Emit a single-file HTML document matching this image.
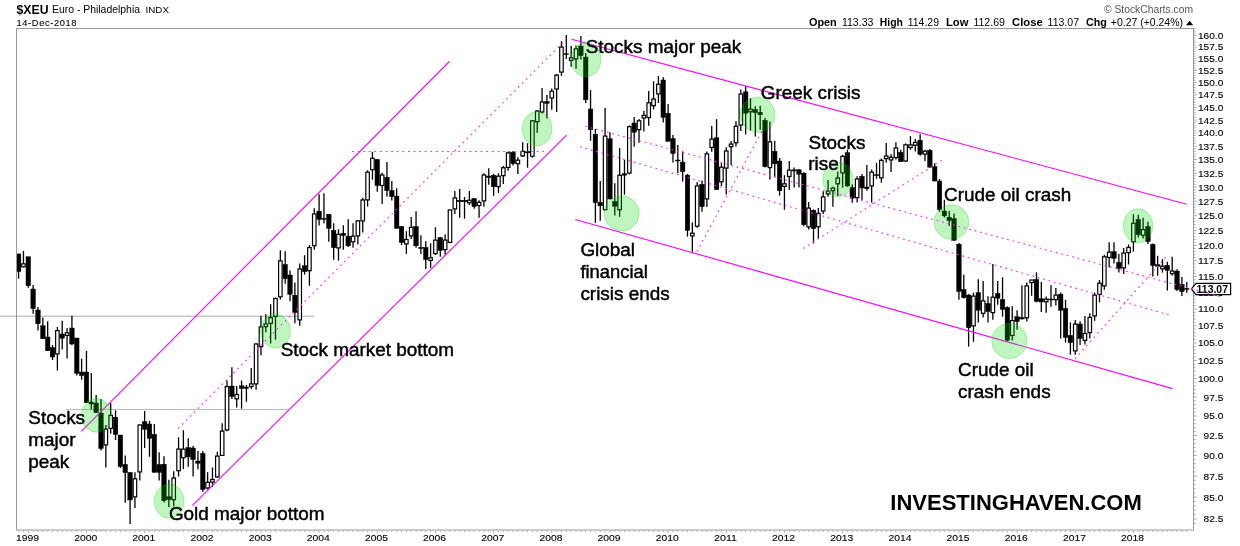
<!DOCTYPE html>
<html lang="en"><head><meta charset="utf-8"><title>$XEU Euro - Philadelphia INDX</title>
<style>html,body{margin:0;padding:0;background:#fff}body{width:1240px;height:546px;overflow:hidden}svg{display:block}text{font-family:"Liberation Sans",Arial,sans-serif;fill:#000}.ax{font-size:9.7px;stroke:#000;stroke-width:0.12px}.an{font-size:18.7px;stroke:#000;stroke-width:0.45px}.b{font-weight:bold}.m{stroke:#ff00ff;stroke-width:1.1;fill:none}.d{stroke:#ff22ff;stroke-width:1.15;fill:none;stroke-dasharray:1.7 3.9}.g{fill:rgba(0,215,0,0.25);stroke:rgba(0,215,0,0.30);stroke-width:1}.w{stroke:#000;stroke-width:1.3}.f{fill:#000;stroke:#000;stroke-width:0.4}.h{fill:#fff;stroke:#000;stroke-width:1.2}</style></head><body>
<svg width="1240" height="546" viewBox="0 0 1240 546">
<rect x="0" y="0" width="1240" height="546" fill="#fff"/>
<text x="16.5" y="13.8" class="b" style="font-size:13px" textLength="32" lengthAdjust="spacingAndGlyphs">$XEU</text>
<text x="52" y="12.7" style="font-size:10.3px" textLength="88" lengthAdjust="spacingAndGlyphs">Euro - Philadelphia</text>
<text x="145.5" y="12.7" style="font-size:9px" textLength="23.5" lengthAdjust="spacingAndGlyphs">INDX</text>
<text x="16.5" y="25.7" style="font-size:9.3px;stroke:#000;stroke-width:0.1px" textLength="60" lengthAdjust="spacing">14-Dec-2018</text>
<text x="1104" y="12.6" style="font-size:10px;fill:#555" textLength="89" lengthAdjust="spacingAndGlyphs">© StockCharts.com</text>
<text x="808.9" y="25.8" style="font-size:10.5px" class="b" textLength="27.9" lengthAdjust="spacingAndGlyphs">Open</text>
<text x="841.9" y="25.8" style="font-size:10px" textLength="31.5" lengthAdjust="spacingAndGlyphs">113.33</text>
<text x="879.8" y="25.8" style="font-size:10.5px" class="b" textLength="23.1" lengthAdjust="spacingAndGlyphs">High</text>
<text x="907.7" y="25.8" style="font-size:10px" textLength="31.3" lengthAdjust="spacingAndGlyphs">114.29</text>
<text x="946" y="25.8" style="font-size:10.5px" class="b" textLength="22.5" lengthAdjust="spacingAndGlyphs">Low</text>
<text x="973.4" y="25.8" style="font-size:10px" textLength="31.5" lengthAdjust="spacingAndGlyphs">112.69</text>
<text x="1012.1" y="25.8" style="font-size:10.5px" class="b" textLength="30.6" lengthAdjust="spacingAndGlyphs">Close</text>
<text x="1047.6" y="25.8" style="font-size:10px" textLength="31.4" lengthAdjust="spacingAndGlyphs">113.07</text>
<text x="1086" y="25.8" style="font-size:10.5px" class="b" textLength="20.8" lengthAdjust="spacingAndGlyphs">Chg</text>
<text x="1110.8" y="25.8" style="font-size:10px" textLength="72.2" lengthAdjust="spacingAndGlyphs">+0.27 (+0.24%)</text>
<path d="M1186 25.2 L1189.6 20.8 L1193.2 25.2 Z" fill="#000"/>
<path d="M0 316.2H314" stroke="#aaa" stroke-width="1"/>
<path d="M66 409.5H289" stroke="#bbb" stroke-width="1"/>
<path class="w" d="M18.60 253.9V278.7"/>
<rect class="f" x="16.30" y="253.9" width="4.6" height="17.7"/>
<path class="w" d="M23.45 251.0V267.4"/>
<rect class="h" x="21.70" y="263.8" width="3.5" height="3.0"/>
<path class="w" d="M28.29 256.8V287.7"/>
<rect class="f" x="25.99" y="256.8" width="4.6" height="29.0"/>
<path class="w" d="M33.14 284.9V313.8"/>
<rect class="f" x="30.84" y="289.0" width="4.6" height="19.6"/>
<path class="w" d="M37.99 307.0V330.5"/>
<rect class="f" x="35.69" y="310.0" width="4.6" height="13.8"/>
<path class="w" d="M42.84 317.5V338.8"/>
<rect class="f" x="40.54" y="325.8" width="4.6" height="13.0"/>
<path class="w" d="M47.68 321.2V350.8"/>
<rect class="f" x="45.38" y="337.0" width="4.6" height="13.8"/>
<path class="w" d="M52.53 345.0V360.0"/>
<rect class="f" x="50.23" y="347.5" width="4.6" height="9.5"/>
<path class="w" d="M57.38 327.0V370.5"/>
<rect class="h" x="55.63" y="330.6" width="3.5" height="23.3"/>
<path class="w" d="M62.22 320.8V349.5"/>
<rect class="f" x="59.92" y="334.0" width="4.6" height="4.2"/>
<path class="w" d="M67.07 328.0V358.5"/>
<rect class="h" x="65.32" y="332.8" width="3.5" height="2.6"/>
<path class="w" d="M71.92 315.8V345.3"/>
<rect class="f" x="69.62" y="328.0" width="4.6" height="16.0"/>
<path class="w" d="M76.76 338.0V375.6"/>
<rect class="f" x="74.46" y="338.0" width="4.6" height="35.3"/>
<path class="w" d="M81.61 358.7V379.7"/>
<rect class="f" x="79.31" y="372.0" width="4.6" height="3.6"/>
<path class="w" d="M86.46 351.0V402.8"/>
<rect class="f" x="84.16" y="372.0" width="4.6" height="30.8"/>
<path class="w" d="M91.31 373.0V409.5"/>
<rect class="f" x="89.01" y="402.0" width="4.6" height="2.0"/>
<path class="w" d="M96.15 395.0V412.7"/>
<rect class="f" x="93.85" y="403.0" width="4.6" height="9.7"/>
<path class="w" d="M101.00 399.0V450.6"/>
<rect class="f" x="98.70" y="413.0" width="4.6" height="35.5"/>
<path class="w" d="M105.85 425.0V467.6"/>
<rect class="h" x="104.10" y="429.1" width="3.5" height="15.8"/>
<path class="w" d="M110.69 403.0V433.7"/>
<rect class="h" x="108.94" y="415.3" width="3.5" height="13.0"/>
<path class="w" d="M115.54 410.3V440.0"/>
<rect class="f" x="113.24" y="417.3" width="4.6" height="17.2"/>
<path class="w" d="M120.39 435.0V468.0"/>
<rect class="f" x="118.09" y="435.0" width="4.6" height="31.5"/>
<path class="w" d="M125.23 455.5V502.7"/>
<rect class="f" x="122.93" y="464.4" width="4.6" height="8.2"/>
<path class="w" d="M130.08 472.0V524.1"/>
<rect class="f" x="127.78" y="472.5" width="4.6" height="27.5"/>
<path class="w" d="M134.93 472.2V508.0"/>
<rect class="h" x="133.18" y="478.8" width="3.5" height="18.1"/>
<path class="w" d="M139.78 424.4V480.6"/>
<rect class="h" x="138.03" y="425.0" width="3.5" height="46.9"/>
<path class="w" d="M144.62 411.0V448.0"/>
<rect class="f" x="142.32" y="421.6" width="4.6" height="7.8"/>
<path class="w" d="M149.47 420.8V456.8"/>
<rect class="f" x="147.17" y="424.0" width="4.6" height="14.5"/>
<path class="w" d="M154.32 424.0V472.5"/>
<rect class="f" x="152.02" y="434.2" width="4.6" height="38.2"/>
<path class="w" d="M159.16 452.3V480.6"/>
<rect class="f" x="156.86" y="464.5" width="4.6" height="8.0"/>
<path class="w" d="M164.01 456.3V502.4"/>
<rect class="f" x="161.71" y="464.2" width="4.6" height="36.5"/>
<path class="w" d="M168.86 479.8V506.9"/>
<rect class="f" x="166.56" y="496.7" width="4.6" height="2.9"/>
<path class="w" d="M173.70 471.2V506.4"/>
<rect class="h" x="171.95" y="478.0" width="3.5" height="21.7"/>
<path class="w" d="M178.55 437.3V476.5"/>
<rect class="h" x="176.80" y="449.1" width="3.5" height="21.6"/>
<path class="w" d="M183.40 430.2V469.2"/>
<rect class="h" x="181.65" y="449.1" width="3.5" height="8.7"/>
<path class="w" d="M188.25 438.2V466.8"/>
<rect class="f" x="185.94" y="447.4" width="4.6" height="9.6"/>
<path class="w" d="M193.09 446.0V476.5"/>
<rect class="f" x="190.79" y="448.0" width="4.6" height="11.5"/>
<path class="w" d="M197.94 451.0V469.2"/>
<rect class="f" x="195.64" y="461.0" width="4.6" height="2.2"/>
<path class="w" d="M202.79 451.0V491.9"/>
<rect class="f" x="200.49" y="453.4" width="4.6" height="36.1"/>
<path class="w" d="M207.63 472.2V489.5"/>
<rect class="h" x="205.88" y="482.3" width="3.5" height="5.7"/>
<path class="w" d="M212.48 467.4V487.0"/>
<rect class="h" x="210.73" y="479.5" width="3.5" height="2.6"/>
<path class="w" d="M217.33 451.8V477.7"/>
<rect class="h" x="215.58" y="456.1" width="3.5" height="20.8"/>
<path class="w" d="M222.17 423.2V456.0"/>
<rect class="h" x="220.42" y="431.1" width="3.5" height="24.3"/>
<path class="w" d="M227.02 380.5V431.3"/>
<rect class="h" x="225.27" y="386.6" width="3.5" height="43.3"/>
<path class="w" d="M231.87 367.3V399.0"/>
<rect class="f" x="229.57" y="386.0" width="4.6" height="10.6"/>
<path class="w" d="M236.72 386.0V407.6"/>
<rect class="h" x="234.97" y="394.5" width="3.5" height="4.3"/>
<path class="w" d="M241.56 380.5V408.7"/>
<rect class="f" x="239.26" y="385.8" width="4.6" height="2.7"/>
<path class="w" d="M246.41 385.0V401.8"/>
<rect class="f" x="244.11" y="387.0" width="4.6" height="1.5"/>
<path class="w" d="M251.26 368.0V389.0"/>
<rect class="h" x="249.51" y="383.9" width="3.5" height="2.6"/>
<path class="w" d="M256.10 343.3V389.7"/>
<rect class="h" x="254.35" y="344.0" width="3.5" height="39.9"/>
<path class="w" d="M260.95 315.8V355.3"/>
<rect class="h" x="259.20" y="326.9" width="3.5" height="19.8"/>
<path class="w" d="M265.80 314.2V332.3"/>
<rect class="h" x="264.05" y="324.0" width="3.5" height="2.6"/>
<path class="w" d="M270.64 304.2V343.5"/>
<rect class="h" x="268.89" y="317.6" width="3.5" height="5.7"/>
<path class="w" d="M275.49 297.3V339.7"/>
<rect class="h" x="273.74" y="298.6" width="3.5" height="17.8"/>
<path class="w" d="M280.34 250.2V299.4"/>
<rect class="h" x="278.59" y="260.9" width="3.5" height="35.9"/>
<path class="w" d="M285.19 251.2V283.7"/>
<rect class="f" x="282.89" y="264.4" width="4.6" height="14.4"/>
<path class="w" d="M290.03 270.5V301.3"/>
<rect class="f" x="287.73" y="275.0" width="4.6" height="19.4"/>
<path class="w" d="M294.88 282.5V323.3"/>
<rect class="f" x="292.58" y="295.2" width="4.6" height="17.4"/>
<path class="w" d="M299.73 263.4V325.8"/>
<rect class="h" x="297.98" y="269.0" width="3.5" height="50.9"/>
<path class="w" d="M304.57 255.2V274.6"/>
<rect class="f" x="302.27" y="265.6" width="4.6" height="6.1"/>
<path class="w" d="M309.42 245.0V285.8"/>
<rect class="h" x="307.67" y="247.6" width="3.5" height="23.1"/>
<path class="w" d="M314.27 208.2V249.8"/>
<rect class="h" x="312.52" y="214.0" width="3.5" height="31.7"/>
<path class="w" d="M319.11 194.2V225.6"/>
<rect class="f" x="316.81" y="211.1" width="4.6" height="8.4"/>
<path class="w" d="M323.96 193.2V223.5"/>
<rect class="f" x="321.66" y="218.4" width="4.6" height="1.1"/>
<path class="w" d="M328.81 214.2V241.8"/>
<rect class="f" x="326.51" y="214.2" width="4.6" height="14.2"/>
<path class="w" d="M333.66 223.2V259.8"/>
<rect class="f" x="331.36" y="230.3" width="4.6" height="17.4"/>
<path class="w" d="M338.50 229.2V260.6"/>
<rect class="h" x="336.75" y="234.3" width="3.5" height="13.6"/>
<path class="w" d="M343.35 225.2V249.7"/>
<rect class="f" x="341.05" y="233.2" width="4.6" height="2.4"/>
<path class="w" d="M348.20 219.2V246.9"/>
<rect class="f" x="345.90" y="236.1" width="4.6" height="9.7"/>
<path class="w" d="M353.04 223.2V247.7"/>
<rect class="h" x="351.29" y="236.2" width="3.5" height="5.6"/>
<path class="w" d="M357.89 220.3V244.5"/>
<rect class="h" x="356.14" y="220.9" width="3.5" height="15.0"/>
<path class="w" d="M362.74 197.7V232.4"/>
<rect class="h" x="360.99" y="200.0" width="3.5" height="20.9"/>
<path class="w" d="M367.58 170.3V206.6"/>
<rect class="h" x="365.83" y="172.2" width="3.5" height="27.7"/>
<path class="w" d="M372.43 151.8V179.7"/>
<rect class="h" x="370.68" y="158.3" width="3.5" height="11.4"/>
<path class="w" d="M377.28 159.0V191.8"/>
<rect class="f" x="374.98" y="159.4" width="4.6" height="26.2"/>
<path class="w" d="M382.13 172.7V203.9"/>
<rect class="h" x="380.38" y="175.0" width="3.5" height="10.5"/>
<path class="w" d="M386.97 161.9V196.6"/>
<rect class="f" x="384.67" y="177.3" width="4.6" height="13.2"/>
<path class="w" d="M391.82 181.0V200.6"/>
<rect class="f" x="389.52" y="190.5" width="4.6" height="6.1"/>
<path class="w" d="M396.67 188.2V228.6"/>
<rect class="f" x="394.37" y="196.1" width="4.6" height="32.3"/>
<path class="w" d="M401.51 226.0V245.0"/>
<rect class="f" x="399.21" y="226.5" width="4.6" height="16.1"/>
<path class="w" d="M406.36 231.3V253.9"/>
<rect class="h" x="404.61" y="239.5" width="3.5" height="4.4"/>
<path class="w" d="M411.21 217.1V238.9"/>
<rect class="h" x="409.46" y="227.4" width="3.5" height="8.5"/>
<path class="w" d="M416.05 211.3V247.7"/>
<rect class="f" x="413.75" y="226.5" width="4.6" height="19.3"/>
<path class="w" d="M420.90 235.2V253.9"/>
<rect class="f" x="418.60" y="247.4" width="4.6" height="1.1"/>
<path class="w" d="M425.75 241.3V269.0"/>
<rect class="f" x="423.45" y="247.4" width="4.6" height="12.2"/>
<path class="w" d="M430.60 243.3V267.9"/>
<rect class="h" x="428.85" y="257.8" width="3.5" height="2.6"/>
<path class="w" d="M435.44 227.2V255.0"/>
<rect class="h" x="433.69" y="240.1" width="3.5" height="13.5"/>
<path class="w" d="M440.29 237.0V256.8"/>
<rect class="f" x="437.99" y="237.5" width="4.6" height="13.0"/>
<path class="w" d="M445.14 234.2V254.4"/>
<rect class="h" x="443.39" y="240.1" width="3.5" height="9.5"/>
<path class="w" d="M449.98 209.4V243.2"/>
<rect class="h" x="448.23" y="210.0" width="3.5" height="32.4"/>
<path class="w" d="M454.83 191.0V213.9"/>
<rect class="h" x="453.08" y="198.0" width="3.5" height="10.9"/>
<path class="w" d="M459.68 188.9V217.7"/>
<rect class="f" x="457.38" y="200.2" width="4.6" height="1.6"/>
<path class="w" d="M464.52 196.9V218.7"/>
<rect class="f" x="462.22" y="200.2" width="4.6" height="1.6"/>
<path class="w" d="M469.37 191.0V205.0"/>
<rect class="h" x="467.62" y="200.2" width="3.5" height="2.6"/>
<path class="w" d="M474.22 198.0V208.7"/>
<rect class="f" x="471.92" y="198.5" width="4.6" height="8.1"/>
<path class="w" d="M479.07 200.2V217.7"/>
<rect class="h" x="477.32" y="202.4" width="3.5" height="3.1"/>
<path class="w" d="M483.91 173.2V206.8"/>
<rect class="h" x="482.16" y="175.0" width="3.5" height="25.9"/>
<path class="w" d="M488.76 168.2V184.8"/>
<rect class="f" x="486.46" y="176.0" width="4.6" height="1.6"/>
<path class="w" d="M493.61 173.9V195.8"/>
<rect class="f" x="491.31" y="175.3" width="4.6" height="11.5"/>
<path class="w" d="M498.45 173.2V192.9"/>
<rect class="h" x="496.70" y="176.2" width="3.5" height="10.4"/>
<path class="w" d="M503.30 166.0V184.0"/>
<rect class="h" x="501.55" y="167.8" width="3.5" height="7.9"/>
<path class="w" d="M508.15 151.5V170.8"/>
<rect class="h" x="506.40" y="152.9" width="3.5" height="14.5"/>
<path class="w" d="M512.99 151.0V165.5"/>
<rect class="f" x="510.69" y="152.2" width="4.6" height="11.4"/>
<path class="w" d="M517.84 157.2V173.9"/>
<rect class="h" x="516.09" y="160.2" width="3.5" height="3.5"/>
<path class="w" d="M522.69 142.3V157.0"/>
<rect class="h" x="520.94" y="151.4" width="3.5" height="4.5"/>
<path class="w" d="M527.54 143.2V167.7"/>
<rect class="f" x="525.24" y="151.3" width="4.6" height="1.6"/>
<path class="w" d="M532.38 120.2V157.7"/>
<rect class="h" x="530.63" y="120.8" width="3.5" height="35.4"/>
<path class="w" d="M537.23 110.0V132.7"/>
<rect class="h" x="535.48" y="111.1" width="3.5" height="10.6"/>
<path class="w" d="M542.08 88.0V113.5"/>
<rect class="h" x="540.33" y="102.0" width="3.5" height="10.0"/>
<path class="w" d="M546.92 94.9V118.5"/>
<rect class="f" x="544.62" y="101.4" width="4.6" height="2.1"/>
<path class="w" d="M551.77 88.5V109.7"/>
<rect class="h" x="550.02" y="91.2" width="3.5" height="6.8"/>
<path class="w" d="M556.62 74.0V112.0"/>
<rect class="h" x="554.87" y="75.1" width="3.5" height="13.9"/>
<path class="w" d="M561.46 41.2V76.0"/>
<rect class="h" x="559.71" y="47.1" width="3.5" height="25.0"/>
<path class="w" d="M566.31 34.9V59.0"/>
<rect class="f" x="564.01" y="53.6" width="4.6" height="1.0"/>
<path class="w" d="M571.16 46.0V66.7"/>
<rect class="h" x="569.41" y="57.8" width="3.5" height="2.6"/>
<path class="w" d="M576.01 45.4V68.8"/>
<rect class="h" x="574.26" y="48.8" width="3.5" height="10.1"/>
<path class="w" d="M580.85 36.0V59.5"/>
<rect class="f" x="578.55" y="46.0" width="4.6" height="9.7"/>
<path class="w" d="M585.70 53.0V103.0"/>
<rect class="f" x="583.40" y="57.0" width="4.6" height="42.8"/>
<path class="w" d="M590.55 90.1V140.8"/>
<rect class="f" x="588.25" y="109.0" width="4.6" height="20.8"/>
<path class="w" d="M595.39 129.0V222.9"/>
<rect class="f" x="593.09" y="134.2" width="4.6" height="68.5"/>
<path class="w" d="M600.24 181.0V220.8"/>
<rect class="f" x="597.94" y="202.3" width="4.6" height="3.5"/>
<path class="w" d="M605.09 108.1V210.3"/>
<rect class="h" x="603.34" y="136.1" width="3.5" height="73.6"/>
<path class="w" d="M609.93 132.3V199.5"/>
<rect class="f" x="607.63" y="138.7" width="4.6" height="60.3"/>
<path class="w" d="M614.78 183.2V215.6"/>
<rect class="f" x="612.48" y="201.5" width="4.6" height="4.8"/>
<path class="w" d="M619.63 148.1V216.8"/>
<rect class="h" x="617.88" y="175.2" width="3.5" height="34.5"/>
<path class="w" d="M624.48 160.0V194.7"/>
<rect class="f" x="622.18" y="173.7" width="4.6" height="1.6"/>
<path class="w" d="M629.32 125.5V174.5"/>
<rect class="h" x="627.57" y="126.7" width="3.5" height="46.4"/>
<path class="w" d="M634.17 116.9V146.8"/>
<rect class="f" x="631.87" y="123.0" width="4.6" height="9.3"/>
<path class="w" d="M639.02 119.0V142.7"/>
<rect class="h" x="637.27" y="120.8" width="3.5" height="8.9"/>
<path class="w" d="M643.86 111.0V131.5"/>
<rect class="h" x="642.11" y="115.4" width="3.5" height="2.6"/>
<path class="w" d="M648.71 90.9V125.8"/>
<rect class="h" x="646.96" y="102.8" width="3.5" height="14.7"/>
<path class="w" d="M653.56 81.2V109.4"/>
<rect class="h" x="651.81" y="99.1" width="3.5" height="6.6"/>
<path class="w" d="M658.40 76.0V103.0"/>
<rect class="h" x="656.65" y="84.2" width="3.5" height="9.7"/>
<path class="w" d="M663.25 77.2V122.5"/>
<rect class="f" x="660.95" y="80.0" width="4.6" height="37.5"/>
<path class="w" d="M668.10 104.1V141.6"/>
<rect class="f" x="665.80" y="113.2" width="4.6" height="28.1"/>
<path class="w" d="M672.95 135.0V162.6"/>
<rect class="f" x="670.65" y="138.5" width="4.6" height="15.0"/>
<path class="w" d="M677.79 145.1V173.3"/>
<rect class="f" x="675.49" y="160.0" width="4.6" height="1.0"/>
<path class="w" d="M682.64 151.4V181.6"/>
<rect class="f" x="680.34" y="162.1" width="4.6" height="9.6"/>
<path class="w" d="M687.49 174.0V236.6"/>
<rect class="f" x="685.19" y="175.1" width="4.6" height="55.4"/>
<path class="w" d="M692.33 222.4V251.7"/>
<rect class="h" x="690.58" y="233.2" width="3.5" height="2.7"/>
<path class="w" d="M697.18 182.1V227.7"/>
<rect class="h" x="695.43" y="185.9" width="3.5" height="40.3"/>
<path class="w" d="M702.03 180.5V211.8"/>
<rect class="f" x="699.73" y="184.3" width="4.6" height="22.4"/>
<path class="w" d="M706.87 151.4V206.9"/>
<rect class="h" x="705.12" y="153.9" width="3.5" height="45.0"/>
<path class="w" d="M711.72 126.1V151.8"/>
<rect class="h" x="709.97" y="139.1" width="3.5" height="8.4"/>
<path class="w" d="M716.57 119.2V189.9"/>
<rect class="f" x="714.27" y="137.7" width="4.6" height="52.0"/>
<path class="w" d="M721.42 162.6V186.0"/>
<rect class="h" x="719.67" y="167.2" width="3.5" height="14.6"/>
<path class="w" d="M726.26 147.3V194.5"/>
<rect class="h" x="724.51" y="151.0" width="3.5" height="17.1"/>
<path class="w" d="M731.11 141.0V165.0"/>
<rect class="h" x="729.36" y="144.1" width="3.5" height="2.6"/>
<path class="w" d="M735.96 121.3V146.5"/>
<rect class="h" x="734.21" y="126.2" width="3.5" height="16.6"/>
<path class="w" d="M740.80 89.4V131.0"/>
<rect class="h" x="739.05" y="94.0" width="3.5" height="31.0"/>
<path class="w" d="M745.65 86.1V134.5"/>
<rect class="f" x="743.35" y="91.8" width="4.6" height="21.4"/>
<path class="w" d="M750.50 98.2V130.5"/>
<rect class="h" x="748.75" y="109.2" width="3.5" height="2.6"/>
<path class="w" d="M755.34 106.3V136.5"/>
<rect class="f" x="753.04" y="109.5" width="4.6" height="3.2"/>
<path class="w" d="M760.19 105.8V129.7"/>
<rect class="f" x="757.89" y="112.3" width="4.6" height="2.5"/>
<path class="w" d="M765.04 118.1V167.4"/>
<rect class="f" x="762.74" y="120.3" width="4.6" height="46.3"/>
<path class="w" d="M769.89 121.6V179.5"/>
<rect class="h" x="768.14" y="141.9" width="3.5" height="25.7"/>
<path class="w" d="M774.73 140.8V176.8"/>
<rect class="f" x="772.43" y="151.2" width="4.6" height="12.7"/>
<path class="w" d="M779.58 158.0V195.6"/>
<rect class="f" x="777.28" y="161.0" width="4.6" height="29.8"/>
<path class="w" d="M784.43 175.2V209.7"/>
<rect class="h" x="782.68" y="183.8" width="3.5" height="2.6"/>
<path class="w" d="M789.27 161.0V190.0"/>
<rect class="h" x="787.52" y="170.1" width="3.5" height="6.4"/>
<path class="w" d="M794.12 167.4V187.6"/>
<rect class="f" x="791.82" y="169.8" width="4.6" height="1.2"/>
<path class="w" d="M798.97 169.0V187.6"/>
<rect class="f" x="796.67" y="169.8" width="4.6" height="4.4"/>
<path class="w" d="M803.81 172.3V226.3"/>
<rect class="f" x="801.51" y="173.1" width="4.6" height="51.6"/>
<path class="w" d="M808.66 202.1V229.5"/>
<rect class="h" x="806.91" y="208.1" width="3.5" height="18.7"/>
<path class="w" d="M813.51 209.4V243.5"/>
<rect class="f" x="811.21" y="210.2" width="4.6" height="18.5"/>
<path class="w" d="M818.36 208.0V238.4"/>
<rect class="h" x="816.61" y="213.3" width="3.5" height="13.5"/>
<path class="w" d="M823.20 191.3V214.0"/>
<rect class="h" x="821.45" y="196.9" width="3.5" height="14.1"/>
<path class="w" d="M828.05 180.0V196.8"/>
<rect class="h" x="826.30" y="191.3" width="3.5" height="2.6"/>
<path class="w" d="M832.90 186.8V206.7"/>
<rect class="h" x="831.15" y="188.1" width="3.5" height="2.6"/>
<path class="w" d="M837.74 171.5V196.1"/>
<rect class="h" x="835.99" y="178.0" width="3.5" height="5.8"/>
<path class="w" d="M842.59 154.8V187.6"/>
<rect class="h" x="840.84" y="156.4" width="3.5" height="16.5"/>
<path class="w" d="M847.44 149.7V186.8"/>
<rect class="f" x="845.14" y="152.6" width="4.6" height="33.4"/>
<path class="w" d="M852.28 184.4V202.7"/>
<rect class="f" x="849.98" y="187.6" width="4.6" height="10.6"/>
<path class="w" d="M857.13 176.3V202.6"/>
<rect class="h" x="855.38" y="179.0" width="3.5" height="18.6"/>
<path class="w" d="M861.98 173.9V199.8"/>
<rect class="f" x="859.68" y="176.3" width="4.6" height="11.7"/>
<path class="w" d="M866.83 165.0V190.8"/>
<rect class="f" x="864.53" y="187.0" width="4.6" height="1.7"/>
<path class="w" d="M871.67 169.4V202.6"/>
<rect class="h" x="869.92" y="172.1" width="3.5" height="13.8"/>
<path class="w" d="M876.52 162.9V178.7"/>
<rect class="f" x="874.22" y="174.7" width="4.6" height="1.0"/>
<path class="w" d="M881.37 158.5V182.7"/>
<rect class="h" x="879.62" y="160.3" width="3.5" height="17.5"/>
<path class="w" d="M886.21 142.9V162.7"/>
<rect class="h" x="884.46" y="156.0" width="3.5" height="2.6"/>
<path class="w" d="M891.06 154.2V172.0"/>
<rect class="h" x="889.31" y="157.3" width="3.5" height="2.6"/>
<path class="w" d="M895.91 142.3V159.4"/>
<rect class="h" x="894.16" y="148.0" width="3.5" height="9.6"/>
<path class="w" d="M900.75 149.8V162.0"/>
<rect class="f" x="898.45" y="152.3" width="4.6" height="9.3"/>
<path class="w" d="M905.60 143.4V162.0"/>
<rect class="h" x="903.85" y="144.8" width="3.5" height="16.2"/>
<path class="w" d="M910.45 136.1V149.8"/>
<rect class="h" x="908.70" y="144.9" width="3.5" height="2.6"/>
<path class="w" d="M915.30 139.0V151.5"/>
<rect class="h" x="913.55" y="142.4" width="3.5" height="2.8"/>
<path class="w" d="M920.14 134.2V155.8"/>
<rect class="f" x="917.84" y="140.2" width="4.6" height="14.0"/>
<path class="w" d="M924.99 149.8V161.1"/>
<rect class="h" x="923.24" y="151.2" width="3.5" height="2.9"/>
<path class="w" d="M929.84 149.0V168.0"/>
<rect class="f" x="927.54" y="150.3" width="4.6" height="16.8"/>
<path class="w" d="M934.68 163.2V181.5"/>
<rect class="f" x="932.38" y="166.5" width="4.6" height="14.5"/>
<path class="w" d="M939.53 178.9V211.9"/>
<rect class="f" x="937.23" y="181.0" width="4.6" height="28.7"/>
<path class="w" d="M944.38 199.8V217.5"/>
<rect class="f" x="942.08" y="211.0" width="4.6" height="4.9"/>
<path class="w" d="M949.22 211.0V226.0"/>
<rect class="f" x="946.92" y="217.2" width="4.6" height="3.5"/>
<path class="w" d="M954.07 213.5V241.0"/>
<rect class="f" x="951.77" y="218.5" width="4.6" height="21.8"/>
<path class="w" d="M958.92 243.0V299.8"/>
<rect class="f" x="956.62" y="244.2" width="4.6" height="47.3"/>
<path class="w" d="M963.77 274.8V298.5"/>
<rect class="f" x="961.47" y="289.4" width="4.6" height="8.3"/>
<path class="w" d="M968.61 294.2V346.6"/>
<rect class="f" x="966.31" y="295.0" width="4.6" height="32.7"/>
<path class="w" d="M973.46 292.6V341.8"/>
<rect class="h" x="971.71" y="296.1" width="3.5" height="29.8"/>
<path class="w" d="M978.31 279.2V322.4"/>
<rect class="f" x="976.01" y="292.6" width="4.6" height="17.7"/>
<path class="w" d="M983.15 281.0V317.6"/>
<rect class="h" x="981.40" y="300.9" width="3.5" height="12.4"/>
<path class="w" d="M988.00 296.3V322.4"/>
<rect class="f" x="985.70" y="303.5" width="4.6" height="8.1"/>
<path class="w" d="M992.85 264.0V319.7"/>
<rect class="h" x="991.10" y="297.2" width="3.5" height="15.4"/>
<path class="w" d="M997.69 281.0V304.7"/>
<rect class="f" x="995.39" y="293.4" width="4.6" height="4.8"/>
<path class="w" d="M1002.54 277.3V316.8"/>
<rect class="f" x="1000.24" y="299.4" width="4.6" height="10.1"/>
<path class="w" d="M1007.39 306.3V341.0"/>
<rect class="f" x="1005.09" y="307.4" width="4.6" height="32.8"/>
<path class="w" d="M1012.24 306.3V340.6"/>
<rect class="h" x="1010.49" y="320.6" width="3.5" height="14.9"/>
<path class="w" d="M1017.08 310.3V329.7"/>
<rect class="f" x="1014.78" y="316.8" width="4.6" height="4.8"/>
<path class="w" d="M1021.93 285.3V319.5"/>
<rect class="f" x="1019.63" y="317.5" width="4.6" height="1.5"/>
<path class="w" d="M1026.78 282.6V321.6"/>
<rect class="h" x="1025.03" y="285.9" width="3.5" height="31.9"/>
<path class="w" d="M1031.62 280.0V295.8"/>
<rect class="h" x="1029.87" y="280.0" width="3.5" height="2.6"/>
<path class="w" d="M1036.47 272.3V302.3"/>
<rect class="f" x="1034.17" y="279.3" width="4.6" height="22.2"/>
<path class="w" d="M1041.32 282.1V312.0"/>
<rect class="f" x="1039.02" y="298.7" width="4.6" height="3.3"/>
<path class="w" d="M1046.16 296.6V312.7"/>
<rect class="h" x="1044.41" y="299.2" width="3.5" height="2.6"/>
<path class="w" d="M1051.01 285.3V306.8"/>
<rect class="f" x="1048.71" y="299.0" width="4.6" height="1.0"/>
<path class="w" d="M1055.86 288.0V305.5"/>
<rect class="h" x="1054.11" y="295.1" width="3.5" height="4.6"/>
<path class="w" d="M1060.70 292.6V338.5"/>
<rect class="f" x="1058.40" y="294.2" width="4.6" height="16.1"/>
<path class="w" d="M1065.55 299.8V342.6"/>
<rect class="f" x="1063.25" y="308.4" width="4.6" height="29.0"/>
<path class="w" d="M1070.40 322.4V354.7"/>
<rect class="f" x="1068.10" y="335.3" width="4.6" height="7.3"/>
<path class="w" d="M1075.25 320.0V354.7"/>
<rect class="h" x="1073.50" y="324.1" width="3.5" height="26.8"/>
<path class="w" d="M1080.09 321.3V345.0"/>
<rect class="f" x="1077.79" y="324.0" width="4.6" height="14.5"/>
<path class="w" d="M1084.94 316.0V344.5"/>
<rect class="h" x="1083.19" y="333.5" width="3.5" height="6.9"/>
<path class="w" d="M1089.79 313.2V338.5"/>
<rect class="h" x="1088.04" y="317.4" width="3.5" height="15.2"/>
<path class="w" d="M1094.63 292.6V320.8"/>
<rect class="h" x="1092.88" y="295.1" width="3.5" height="20.8"/>
<path class="w" d="M1099.48 280.0V302.3"/>
<rect class="h" x="1097.73" y="283.2" width="3.5" height="11.2"/>
<path class="w" d="M1104.33 254.8V289.7"/>
<rect class="h" x="1102.58" y="256.8" width="3.5" height="29.1"/>
<path class="w" d="M1109.17 242.3V267.2"/>
<rect class="h" x="1107.42" y="252.2" width="3.5" height="5.2"/>
<path class="w" d="M1114.02 242.3V263.6"/>
<rect class="f" x="1111.72" y="251.6" width="4.6" height="6.8"/>
<path class="w" d="M1118.87 254.0V272.6"/>
<rect class="f" x="1116.57" y="262.4" width="4.6" height="6.1"/>
<path class="w" d="M1123.72 248.0V273.9"/>
<rect class="h" x="1121.97" y="253.0" width="3.5" height="14.9"/>
<path class="w" d="M1128.56 244.4V264.5"/>
<rect class="h" x="1126.81" y="247.4" width="3.5" height="5.2"/>
<path class="w" d="M1133.41 214.2V251.6"/>
<rect class="h" x="1131.66" y="223.2" width="3.5" height="18.5"/>
<path class="w" d="M1138.26 214.8V237.4"/>
<rect class="f" x="1135.96" y="219.4" width="4.6" height="15.3"/>
<path class="w" d="M1143.10 217.7V238.4"/>
<rect class="h" x="1141.35" y="229.6" width="3.5" height="5.6"/>
<path class="w" d="M1147.95 221.8V243.9"/>
<rect class="f" x="1145.65" y="226.6" width="4.6" height="15.0"/>
<path class="w" d="M1152.80 243.5V276.6"/>
<rect class="f" x="1150.50" y="244.4" width="4.6" height="21.1"/>
<path class="w" d="M1157.64 255.8V275.8"/>
<rect class="f" x="1155.35" y="264.6" width="4.6" height="1.7"/>
<path class="w" d="M1162.49 258.9V272.6"/>
<rect class="h" x="1160.74" y="266.2" width="3.5" height="2.6"/>
<path class="w" d="M1167.34 261.8V290.6"/>
<rect class="f" x="1165.04" y="265.3" width="4.6" height="5.1"/>
<path class="w" d="M1172.19 256.8V275.7"/>
<rect class="h" x="1170.44" y="271.0" width="3.5" height="2.6"/>
<path class="w" d="M1177.03 269.2V291.1"/>
<rect class="f" x="1174.73" y="271.0" width="4.6" height="18.5"/>
<path class="w" d="M1181.88 277.1V296.0"/>
<rect class="f" x="1179.58" y="284.4" width="4.6" height="7.2"/>
<path class="w" d="M1186.73 281.9V292.7"/>
<rect class="f" x="1184.43" y="288.4" width="4.6" height="1.1"/>
<rect x="16.5" y="28.5" width="1177.0" height="501.5" fill="none" stroke="#999" stroke-width="1"/>
<path d="M1194.0 523.5h1.6M1194.0 519.0h2.8M1194.0 514.6h1.6M1194.0 510.2h1.6M1194.0 505.9h1.6M1194.0 501.5h1.6M1194.0 497.2h2.8M1194.0 493.0h1.6M1194.0 488.7h1.6M1194.0 484.5h1.6M1194.0 480.3h1.6M1194.0 476.1h2.8M1194.0 471.9h1.6M1194.0 467.8h1.6M1194.0 463.7h1.6M1194.0 459.6h1.6M1194.0 455.5h2.8M1194.0 451.5h1.6M1194.0 447.4h1.6M1194.0 443.4h1.6M1194.0 439.5h1.6M1194.0 435.5h2.8M1194.0 431.6h1.6M1194.0 427.7h1.6M1194.0 423.8h1.6M1194.0 419.9h1.6M1194.0 416.0h2.8M1194.0 412.2h1.6M1194.0 408.4h1.6M1194.0 404.6h1.6M1194.0 400.8h1.6M1194.0 397.1h2.8M1194.0 393.4h1.6M1194.0 389.6h1.6M1194.0 385.9h1.6M1194.0 382.3h1.6M1194.0 378.6h2.8M1194.0 375.0h1.6M1194.0 371.3h1.6M1194.0 367.7h1.6M1194.0 364.1h1.6M1194.0 360.6h2.8M1194.0 357.0h1.6M1194.0 353.5h1.6M1194.0 350.0h1.6M1194.0 346.5h1.6M1194.0 343.0h2.8M1194.0 339.5h1.6M1194.0 336.1h1.6M1194.0 332.6h1.6M1194.0 329.2h1.6M1194.0 325.8h2.8M1194.0 322.4h1.6M1194.0 319.0h1.6M1194.0 315.7h1.6M1194.0 312.4h1.6M1194.0 309.0h2.8M1194.0 305.7h1.6M1194.0 302.4h1.6M1194.0 299.1h1.6M1194.0 295.9h1.6M1194.0 292.6h2.8M1194.0 289.4h1.6M1194.0 286.2h1.6M1194.0 283.0h1.6M1194.0 279.8h1.6M1194.0 276.6h2.8M1194.0 273.4h1.6M1194.0 270.3h1.6M1194.0 267.1h1.6M1194.0 264.0h1.6M1194.0 260.9h2.8M1194.0 257.8h1.6M1194.0 254.7h1.6M1194.0 251.6h1.6M1194.0 248.6h1.6M1194.0 245.5h2.8M1194.0 242.5h1.6M1194.0 239.4h1.6M1194.0 236.4h1.6M1194.0 233.4h1.6M1194.0 230.5h2.8M1194.0 227.5h1.6M1194.0 224.5h1.6M1194.0 221.6h1.6M1194.0 218.6h1.6M1194.0 215.7h2.8M1194.0 212.8h1.6M1194.0 209.9h1.6M1194.0 207.0h1.6M1194.0 204.1h1.6M1194.0 201.3h2.8M1194.0 198.4h1.6M1194.0 195.5h1.6M1194.0 192.7h1.6M1194.0 189.9h1.6M1194.0 187.1h2.8M1194.0 184.3h1.6M1194.0 181.5h1.6M1194.0 178.7h1.6M1194.0 175.9h1.6M1194.0 173.2h2.8M1194.0 170.4h1.6M1194.0 167.7h1.6M1194.0 165.0h1.6M1194.0 162.2h1.6M1194.0 159.5h2.8M1194.0 156.8h1.6M1194.0 154.1h1.6M1194.0 151.5h1.6M1194.0 148.8h1.6M1194.0 146.1h2.8M1194.0 143.5h1.6M1194.0 140.8h1.6M1194.0 138.2h1.6M1194.0 135.6h1.6M1194.0 133.0h2.8M1194.0 130.4h1.6M1194.0 127.8h1.6M1194.0 125.2h1.6M1194.0 122.6h1.6M1194.0 120.1h2.8M1194.0 117.5h1.6M1194.0 115.0h1.6M1194.0 112.4h1.6M1194.0 109.9h1.6M1194.0 107.4h2.8M1194.0 104.8h1.6M1194.0 102.3h1.6M1194.0 99.8h1.6M1194.0 97.4h1.6M1194.0 94.9h2.8M1194.0 92.4h1.6M1194.0 89.9h1.6M1194.0 87.5h1.6M1194.0 85.1h1.6M1194.0 82.6h2.8M1194.0 80.2h1.6M1194.0 77.8h1.6M1194.0 75.3h1.6M1194.0 72.9h1.6M1194.0 70.5h2.8M1194.0 68.2h1.6M1194.0 65.8h1.6M1194.0 63.4h1.6M1194.0 61.0h1.6M1194.0 58.7h2.8M1194.0 56.3h1.6M1194.0 54.0h1.6M1194.0 51.6h1.6M1194.0 49.3h1.6M1194.0 47.0h2.8M1194.0 44.7h1.6M1194.0 42.4h1.6M1194.0 40.1h1.6M1194.0 37.8h1.6M1194.0 35.5h2.8M1194.0 33.2h1.6M1194.0 31.0h1.6M1194.0 28.7h1.6" stroke="#aaa" stroke-width="1"/>
<text class="ax" x="1203.6" y="522.4" textLength="19.7" lengthAdjust="spacingAndGlyphs">82.5</text>
<text class="ax" x="1203.6" y="500.6" textLength="19.7" lengthAdjust="spacingAndGlyphs">85.0</text>
<text class="ax" x="1203.6" y="479.5" textLength="19.7" lengthAdjust="spacingAndGlyphs">87.5</text>
<text class="ax" x="1203.6" y="458.9" textLength="19.7" lengthAdjust="spacingAndGlyphs">90.0</text>
<text class="ax" x="1203.6" y="438.9" textLength="19.7" lengthAdjust="spacingAndGlyphs">92.5</text>
<text class="ax" x="1203.6" y="419.4" textLength="19.7" lengthAdjust="spacingAndGlyphs">95.0</text>
<text class="ax" x="1203.6" y="400.5" textLength="19.7" lengthAdjust="spacingAndGlyphs">97.5</text>
<text class="ax" x="1198.0" y="382.0" textLength="25.3" lengthAdjust="spacingAndGlyphs">100.0</text>
<text class="ax" x="1198.0" y="364.0" textLength="25.3" lengthAdjust="spacingAndGlyphs">102.5</text>
<text class="ax" x="1198.0" y="346.4" textLength="25.3" lengthAdjust="spacingAndGlyphs">105.0</text>
<text class="ax" x="1198.0" y="329.2" textLength="25.3" lengthAdjust="spacingAndGlyphs">107.5</text>
<text class="ax" x="1198.0" y="312.4" textLength="25.3" lengthAdjust="spacingAndGlyphs">110.0</text>
<text class="ax" x="1198.0" y="296.0" textLength="25.3" lengthAdjust="spacingAndGlyphs">112.5</text>
<text class="ax" x="1198.0" y="280.0" textLength="25.3" lengthAdjust="spacingAndGlyphs">115.0</text>
<text class="ax" x="1198.0" y="264.3" textLength="25.3" lengthAdjust="spacingAndGlyphs">117.5</text>
<text class="ax" x="1198.0" y="248.9" textLength="25.3" lengthAdjust="spacingAndGlyphs">120.0</text>
<text class="ax" x="1198.0" y="233.9" textLength="25.3" lengthAdjust="spacingAndGlyphs">122.5</text>
<text class="ax" x="1198.0" y="219.1" textLength="25.3" lengthAdjust="spacingAndGlyphs">125.0</text>
<text class="ax" x="1198.0" y="204.7" textLength="25.3" lengthAdjust="spacingAndGlyphs">127.5</text>
<text class="ax" x="1198.0" y="190.5" textLength="25.3" lengthAdjust="spacingAndGlyphs">130.0</text>
<text class="ax" x="1198.0" y="176.6" textLength="25.3" lengthAdjust="spacingAndGlyphs">132.5</text>
<text class="ax" x="1198.0" y="162.9" textLength="25.3" lengthAdjust="spacingAndGlyphs">135.0</text>
<text class="ax" x="1198.0" y="149.5" textLength="25.3" lengthAdjust="spacingAndGlyphs">137.5</text>
<text class="ax" x="1198.0" y="136.4" textLength="25.3" lengthAdjust="spacingAndGlyphs">140.0</text>
<text class="ax" x="1198.0" y="123.5" textLength="25.3" lengthAdjust="spacingAndGlyphs">142.5</text>
<text class="ax" x="1198.0" y="110.8" textLength="25.3" lengthAdjust="spacingAndGlyphs">145.0</text>
<text class="ax" x="1198.0" y="98.3" textLength="25.3" lengthAdjust="spacingAndGlyphs">147.5</text>
<text class="ax" x="1198.0" y="86.0" textLength="25.3" lengthAdjust="spacingAndGlyphs">150.0</text>
<text class="ax" x="1198.0" y="73.9" textLength="25.3" lengthAdjust="spacingAndGlyphs">152.5</text>
<text class="ax" x="1198.0" y="62.1" textLength="25.3" lengthAdjust="spacingAndGlyphs">155.0</text>
<text class="ax" x="1198.0" y="50.4" textLength="25.3" lengthAdjust="spacingAndGlyphs">157.5</text>
<text class="ax" x="1198.0" y="38.9" textLength="25.3" lengthAdjust="spacingAndGlyphs">160.0</text>
<path d="M18.6 530.5v1.5M23.4 530.5v1.5M28.3 530.5v2.6M33.1 530.5v1.5M38.0 530.5v1.5M42.8 530.5v1.5M47.7 530.5v1.5M52.5 530.5v1.5M57.4 530.5v1.5M62.2 530.5v1.5M67.1 530.5v1.5M71.9 530.5v1.5M76.8 530.5v1.5M81.6 530.5v1.5M86.5 530.5v2.6M91.3 530.5v1.5M96.2 530.5v1.5M101.0 530.5v1.5M105.8 530.5v1.5M110.7 530.5v1.5M115.5 530.5v1.5M120.4 530.5v1.5M125.2 530.5v1.5M130.1 530.5v1.5M134.9 530.5v1.5M139.8 530.5v1.5M144.6 530.5v2.6M149.5 530.5v1.5M154.3 530.5v1.5M159.2 530.5v1.5M164.0 530.5v1.5M168.9 530.5v1.5M173.7 530.5v1.5M178.6 530.5v1.5M183.4 530.5v1.5M188.2 530.5v1.5M193.1 530.5v1.5M197.9 530.5v1.5M202.8 530.5v2.6M207.6 530.5v1.5M212.5 530.5v1.5M217.3 530.5v1.5M222.2 530.5v1.5M227.0 530.5v1.5M231.9 530.5v1.5M236.7 530.5v1.5M241.6 530.5v1.5M246.4 530.5v1.5M251.3 530.5v1.5M256.1 530.5v1.5M261.0 530.5v2.6M265.8 530.5v1.5M270.6 530.5v1.5M275.5 530.5v1.5M280.3 530.5v1.5M285.2 530.5v1.5M290.0 530.5v1.5M294.9 530.5v1.5M299.7 530.5v1.5M304.6 530.5v1.5M309.4 530.5v1.5M314.3 530.5v1.5M319.1 530.5v2.6M324.0 530.5v1.5M328.8 530.5v1.5M333.7 530.5v1.5M338.5 530.5v1.5M343.3 530.5v1.5M348.2 530.5v1.5M353.0 530.5v1.5M357.9 530.5v1.5M362.7 530.5v1.5M367.6 530.5v1.5M372.4 530.5v1.5M377.3 530.5v2.6M382.1 530.5v1.5M387.0 530.5v1.5M391.8 530.5v1.5M396.7 530.5v1.5M401.5 530.5v1.5M406.4 530.5v1.5M411.2 530.5v1.5M416.1 530.5v1.5M420.9 530.5v1.5M425.7 530.5v1.5M430.6 530.5v1.5M435.4 530.5v2.6M440.3 530.5v1.5M445.1 530.5v1.5M450.0 530.5v1.5M454.8 530.5v1.5M459.7 530.5v1.5M464.5 530.5v1.5M469.4 530.5v1.5M474.2 530.5v1.5M479.1 530.5v1.5M483.9 530.5v1.5M488.8 530.5v1.5M493.6 530.5v2.6M498.5 530.5v1.5M503.3 530.5v1.5M508.1 530.5v1.5M513.0 530.5v1.5M517.8 530.5v1.5M522.7 530.5v1.5M527.5 530.5v1.5M532.4 530.5v1.5M537.2 530.5v1.5M542.1 530.5v1.5M546.9 530.5v1.5M551.8 530.5v2.6M556.6 530.5v1.5M561.5 530.5v1.5M566.3 530.5v1.5M571.2 530.5v1.5M576.0 530.5v1.5M580.9 530.5v1.5M585.7 530.5v1.5M590.5 530.5v1.5M595.4 530.5v1.5M600.2 530.5v1.5M605.1 530.5v1.5M609.9 530.5v2.6M614.8 530.5v1.5M619.6 530.5v1.5M624.5 530.5v1.5M629.3 530.5v1.5M634.2 530.5v1.5M639.0 530.5v1.5M643.9 530.5v1.5M648.7 530.5v1.5M653.6 530.5v1.5M658.4 530.5v1.5M663.3 530.5v1.5M668.1 530.5v2.6M672.9 530.5v1.5M677.8 530.5v1.5M682.6 530.5v1.5M687.5 530.5v1.5M692.3 530.5v1.5M697.2 530.5v1.5M702.0 530.5v1.5M706.9 530.5v1.5M711.7 530.5v1.5M716.6 530.5v1.5M721.4 530.5v1.5M726.3 530.5v2.6M731.1 530.5v1.5M736.0 530.5v1.5M740.8 530.5v1.5M745.7 530.5v1.5M750.5 530.5v1.5M755.3 530.5v1.5M760.2 530.5v1.5M765.0 530.5v1.5M769.9 530.5v1.5M774.7 530.5v1.5M779.6 530.5v1.5M784.4 530.5v2.6M789.3 530.5v1.5M794.1 530.5v1.5M799.0 530.5v1.5M803.8 530.5v1.5M808.7 530.5v1.5M813.5 530.5v1.5M818.4 530.5v1.5M823.2 530.5v1.5M828.0 530.5v1.5M832.9 530.5v1.5M837.7 530.5v1.5M842.6 530.5v2.6M847.4 530.5v1.5M852.3 530.5v1.5M857.1 530.5v1.5M862.0 530.5v1.5M866.8 530.5v1.5M871.7 530.5v1.5M876.5 530.5v1.5M881.4 530.5v1.5M886.2 530.5v1.5M891.1 530.5v1.5M895.9 530.5v1.5M900.8 530.5v2.6M905.6 530.5v1.5M910.4 530.5v1.5M915.3 530.5v1.5M920.1 530.5v1.5M925.0 530.5v1.5M929.8 530.5v1.5M934.7 530.5v1.5M939.5 530.5v1.5M944.4 530.5v1.5M949.2 530.5v1.5M954.1 530.5v1.5M958.9 530.5v2.6M963.8 530.5v1.5M968.6 530.5v1.5M973.5 530.5v1.5M978.3 530.5v1.5M983.2 530.5v1.5M988.0 530.5v1.5M992.8 530.5v1.5M997.7 530.5v1.5M1002.5 530.5v1.5M1007.4 530.5v1.5M1012.2 530.5v1.5M1017.1 530.5v2.6M1021.9 530.5v1.5M1026.8 530.5v1.5M1031.6 530.5v1.5M1036.5 530.5v1.5M1041.3 530.5v1.5M1046.2 530.5v1.5M1051.0 530.5v1.5M1055.9 530.5v1.5M1060.7 530.5v1.5M1065.6 530.5v1.5M1070.4 530.5v1.5M1075.2 530.5v2.6M1080.1 530.5v1.5M1084.9 530.5v1.5M1089.8 530.5v1.5M1094.6 530.5v1.5M1099.5 530.5v1.5M1104.3 530.5v1.5M1109.2 530.5v1.5M1114.0 530.5v1.5M1118.9 530.5v1.5M1123.7 530.5v1.5M1128.6 530.5v1.5M1133.4 530.5v2.6M1138.3 530.5v1.5M1143.1 530.5v1.5M1148.0 530.5v1.5M1152.8 530.5v1.5M1157.6 530.5v1.5M1162.5 530.5v1.5M1167.3 530.5v1.5M1172.2 530.5v1.5M1177.0 530.5v1.5M1181.9 530.5v1.5M1186.7 530.5v1.5" stroke="#aaa" stroke-width="1"/>
<text class="ax" x="27.5" y="541.1" text-anchor="middle" textLength="23" lengthAdjust="spacingAndGlyphs">1999</text>
<text class="ax" x="85.7" y="541.1" text-anchor="middle" textLength="23" lengthAdjust="spacingAndGlyphs">2000</text>
<text class="ax" x="143.8" y="541.1" text-anchor="middle" textLength="23" lengthAdjust="spacingAndGlyphs">2001</text>
<text class="ax" x="202.0" y="541.1" text-anchor="middle" textLength="23" lengthAdjust="spacingAndGlyphs">2002</text>
<text class="ax" x="260.2" y="541.1" text-anchor="middle" textLength="23" lengthAdjust="spacingAndGlyphs">2003</text>
<text class="ax" x="318.3" y="541.1" text-anchor="middle" textLength="23" lengthAdjust="spacingAndGlyphs">2004</text>
<text class="ax" x="376.5" y="541.1" text-anchor="middle" textLength="23" lengthAdjust="spacingAndGlyphs">2005</text>
<text class="ax" x="434.6" y="541.1" text-anchor="middle" textLength="23" lengthAdjust="spacingAndGlyphs">2006</text>
<text class="ax" x="492.8" y="541.1" text-anchor="middle" textLength="23" lengthAdjust="spacingAndGlyphs">2007</text>
<text class="ax" x="551.0" y="541.1" text-anchor="middle" textLength="23" lengthAdjust="spacingAndGlyphs">2008</text>
<text class="ax" x="609.1" y="541.1" text-anchor="middle" textLength="23" lengthAdjust="spacingAndGlyphs">2009</text>
<text class="ax" x="667.3" y="541.1" text-anchor="middle" textLength="23" lengthAdjust="spacingAndGlyphs">2010</text>
<text class="ax" x="725.5" y="541.1" text-anchor="middle" textLength="23" lengthAdjust="spacingAndGlyphs">2011</text>
<text class="ax" x="783.6" y="541.1" text-anchor="middle" textLength="23" lengthAdjust="spacingAndGlyphs">2012</text>
<text class="ax" x="841.8" y="541.1" text-anchor="middle" textLength="23" lengthAdjust="spacingAndGlyphs">2013</text>
<text class="ax" x="900.0" y="541.1" text-anchor="middle" textLength="23" lengthAdjust="spacingAndGlyphs">2014</text>
<text class="ax" x="958.1" y="541.1" text-anchor="middle" textLength="23" lengthAdjust="spacingAndGlyphs">2015</text>
<text class="ax" x="1016.3" y="541.1" text-anchor="middle" textLength="23" lengthAdjust="spacingAndGlyphs">2016</text>
<text class="ax" x="1074.4" y="541.1" text-anchor="middle" textLength="23" lengthAdjust="spacingAndGlyphs">2017</text>
<text class="ax" x="1132.6" y="541.1" text-anchor="middle" textLength="23" lengthAdjust="spacingAndGlyphs">2018</text>
<path class="m" d="M81.3 431.3L449.4 61.5"/>
<path class="m" d="M192.3 505.6L566.6 135.2"/>
<path class="m" d="M571.5 39.3L1186.7 204.3"/>
<path class="m" d="M575.3 219.5L1172.6 388.6"/>
<path class="d" d="M178.1 428.5L565.5 40.0"/>
<path class="d" d="M352 151.5L547 151.5"/>
<path class="d" d="M580 146.8L1170.6 315.3"/>
<path class="d" d="M697 251.5L763.2 128.9"/>
<path class="d" d="M803.2 248.4L942.3 160.0"/>
<path class="d" d="M1075 358.7L1168.2 254.5"/>
<ellipse class="g" cx="96.3" cy="415.2" rx="14.8" ry="17"/>
<ellipse class="g" cx="169.2" cy="501.2" rx="14.8" ry="17"/>
<ellipse class="g" cx="275.5" cy="331.1" rx="14.8" ry="17"/>
<ellipse class="g" cx="537.1" cy="128.7" rx="14.9" ry="17.2"/>
<ellipse class="g" cx="586" cy="59.7" rx="14.9" ry="17.2"/>
<ellipse class="g" cx="621.7" cy="213.5" rx="17.4" ry="17.5"/>
<ellipse class="g" cx="757.6" cy="114.7" rx="17.3" ry="17.5"/>
<ellipse class="g" cx="837.9" cy="179.5" rx="15" ry="17.3"/>
<ellipse class="g" cx="951.5" cy="222.1" rx="17.3" ry="17.2"/>
<ellipse class="g" cx="1009.4" cy="341" rx="17.6" ry="17.5"/>
<ellipse class="g" cx="1138" cy="225.8" rx="14.7" ry="17.1"/>
<path d="M1191.4 288.9L1196 283.3H1230.6V294.6H1196Z" fill="#fff" stroke="#000" stroke-width="1.2"/>
<text x="1196.6" y="292.7" class="b" style="font-size:10.5px" textLength="31.4" lengthAdjust="spacingAndGlyphs">113.07</text>
<path class="d" d="M585.2 126.3L1220 296.4"/>
<text class="an" transform="translate(585.7 53.1) scale(1.012 1)">Stocks major peak</text>
<text class="an" transform="translate(760.7 99.1) scale(1.012 1)">Greek crisis</text>
<text class="an" transform="translate(808.6 148.9) scale(1.012 1)">Stocks</text>
<text class="an" transform="translate(808.3 170.2) scale(1.012 1)">rise</text>
<text class="an" transform="translate(944.1 201.1) scale(1.012 1)">Crude oil crash</text>
<text class="an" transform="translate(580.4 256.2) scale(1.012 1)">Global</text>
<text class="an" transform="translate(580.4 278.0) scale(0.985 1)">financial</text>
<text class="an" transform="translate(580.4 300.1) scale(1.012 1)">crisis ends</text>
<text class="an" transform="translate(280.7 356.1) scale(1.012 1)">Stock market bottom</text>
<text class="an" transform="translate(28.3 424.0) scale(1.012 1)">Stocks</text>
<text class="an" transform="translate(28.3 445.9) scale(1.012 1)">major</text>
<text class="an" transform="translate(28.3 468.0) scale(1.012 1)">peak</text>
<text class="an" transform="translate(168.9 519.6) scale(1.012 1)">Gold major bottom</text>
<text class="an" transform="translate(958.1 376.4) scale(1.012 1)">Crude oil</text>
<text class="an" transform="translate(958.1 398.2) scale(1.012 1)">crash ends</text>
<text x="890.3" y="509.7" class="b" style="font-size:21.5px" textLength="251.5" lengthAdjust="spacingAndGlyphs">INVESTINGHAVEN.COM</text>
</svg></body></html>
